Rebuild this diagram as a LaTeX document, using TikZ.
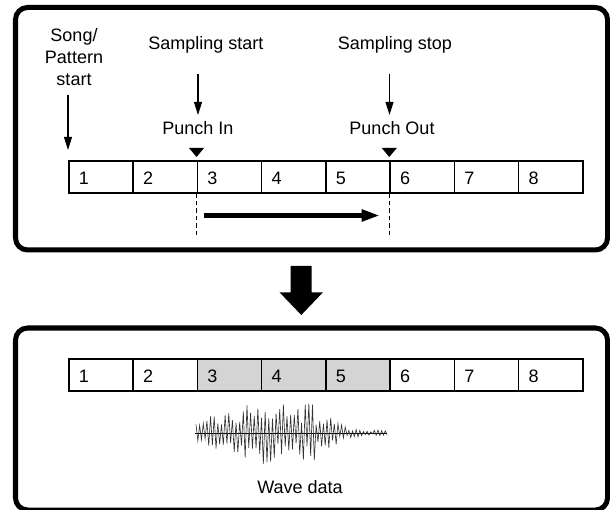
\documentclass[tikz,border=0pt]{standalone}
\usepackage{fontspec}
\setmainfont{Liberation Sans}
\usetikzlibrary{arrows.meta}

\tikzset{
  frame/.style={line width=0.125cm, rounded corners=0.3cm},
  cell/.style={draw, line width=0.04cm, anchor=north west, minimum width=1.606cm,
    minimum height=0.8cm, text width=1.106cm, inner xsep=0.25cm, align=left,
    text height=1.6ex, text depth=0pt},
  marked/.style={cell, fill=black!17},
  pointer/.style={line width=0.03cm, -{Triangle[length=0.33cm,width=0.2cm]}},
  guide/.style={line width=0.03cm, dash pattern=on 0.11cm off 0.075cm},
  flow/.style={line width=0.14cm, -{Triangle[length=0.46cm,width=0.28cm]}},
  label/.style={inner sep=0pt, align=center},
  wave/.style={line width=0.45pt, black!80},
  declare function={envl(\t)=exp(-(\t*\t)*(\t*\t));
    env(\p)=3+30*ifthenelse(\p<275, envl((\p-275)/70), envl((\p-275)/60));}
}

\begin{document}
\begin{tikzpicture}[x=0.025cm, y=-0.025cm]
\fontsize{12.8pt}{15.6pt}\selectfont
\useasboundingbox (0,0) rectangle (610,510);

% before sampling
\draw[frame] (15.5,7.5) rectangle (607.5,250);
\foreach \n in {1,...,8}
  \node[cell] (t\n) at ({68+(\n-1)*64.25},160) {\n};

\node[label] (song) at (74,57) {Song/\\Pattern\\start};
\node[label] (sstart) at (206,45) {Sampling start};
\node[label] (sstop) at (395,45) {Sampling stop};
\node[label] (pin) at (198,128) {Punch In};
\node[label] (pout) at (392,128) {Punch Out};

\coordinate (songtail) at (68,95);
\coordinate (songhead) at (68,150);
\coordinate (sstarttail) at (198,74);
\coordinate (sstarthead) at (198,115);
\coordinate (sstoptail) at (389.5,74);
\coordinate (sstophead) at (389.5,115);
\draw[pointer] (songtail) -- (songhead);
\draw[pointer] (sstarttail) -- (sstarthead);
\draw[pointer] (sstoptail) -- (sstophead);

\fill (t3.north west) ++(-7.5,-12) -- ++(15,0) -- ++(-7.5,9) -- cycle;
\fill (t6.north west) ++(-7.5,-12) -- ++(15,0) -- ++(-7.5,9) -- cycle;

\draw[guide] (t3.south west) -- ++(0,43) coordinate (g3);
\draw[guide] (t6.south west) -- ++(0,43) coordinate (g6);
\coordinate (flowtail) at (204,215.5);
\coordinate (flowhead) at (380,215.5);
\draw[flow] (flowtail) -- (flowhead);

% big arrow
\fill (290.7,266) -- (311.7,266) -- (311.7,292.3) -- (323,292.3) -- (301.3,315)
  -- (279.5,292.3) -- (290.7,292.3) -- cycle;

% after sampling
\draw[frame] (15.5,328) rectangle (607.5,510);
\foreach \n in {1,2,6,7,8}
  \node[cell] (b\n) at ({68+(\n-1)*64.25},358) {\n};
\foreach \n in {3,4,5}
  \node[marked] (b\n) at ({68+(\n-1)*64.25},358) {\n};

\pgfmathsetseed{11}
\draw[line width=0.3pt] (195,433) -- (387,433);
\draw[wave] plot[samples at={0,...,105}]
  ({196+1.82*\x}, {433+(2*mod(\x,2)-1)*env(196+1.82*\x)*(0.3+0.7*rnd)});
\node[label] (wave) at (300,487) {Wave data};
\end{tikzpicture}
\end{document}
